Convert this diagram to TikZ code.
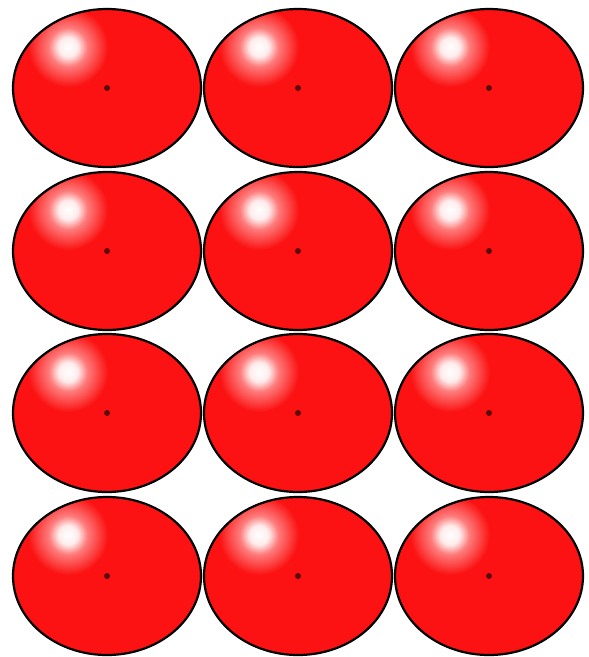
\documentclass[tikz,border=0pt]{standalone}
\usepackage{xcolor}
\usepackage{tikz}
\definecolor{ballred}{RGB}{252,18,18}
\definecolor{dotred}{RGB}{90,10,10}
\pgfdeclareradialshading{glint}{\pgfpoint{0bp}{0bp}}{%
  color(0bp)=(white); color(6bp)=(white!92!ballred);
  color(12bp)=(white!45!ballred); color(25bp)=(ballred); color(50bp)=(ballred)}

\begin{document}
\begin{tikzpicture}[x=1pt,y=-1pt]
\useasboundingbox (0,0) rectangle (589,657);
\foreach \cx in {107,298,489}{
  \foreach \cy in {88,251,413,576}{
    \begin{scope}
      \clip (\cx,\cy) ellipse (94 and 79);
      \fill[ballred] (\cx,\cy) ellipse (94 and 79);
      \shade[shading=glint] (\cx-39,\cy-41) circle (40);
    \end{scope}
    \draw[line width=2.2pt] (\cx,\cy) ellipse (94 and 79);
    \fill[dotred] (\cx,\cy) circle (3);
  }
}
\end{tikzpicture}
\end{document}
